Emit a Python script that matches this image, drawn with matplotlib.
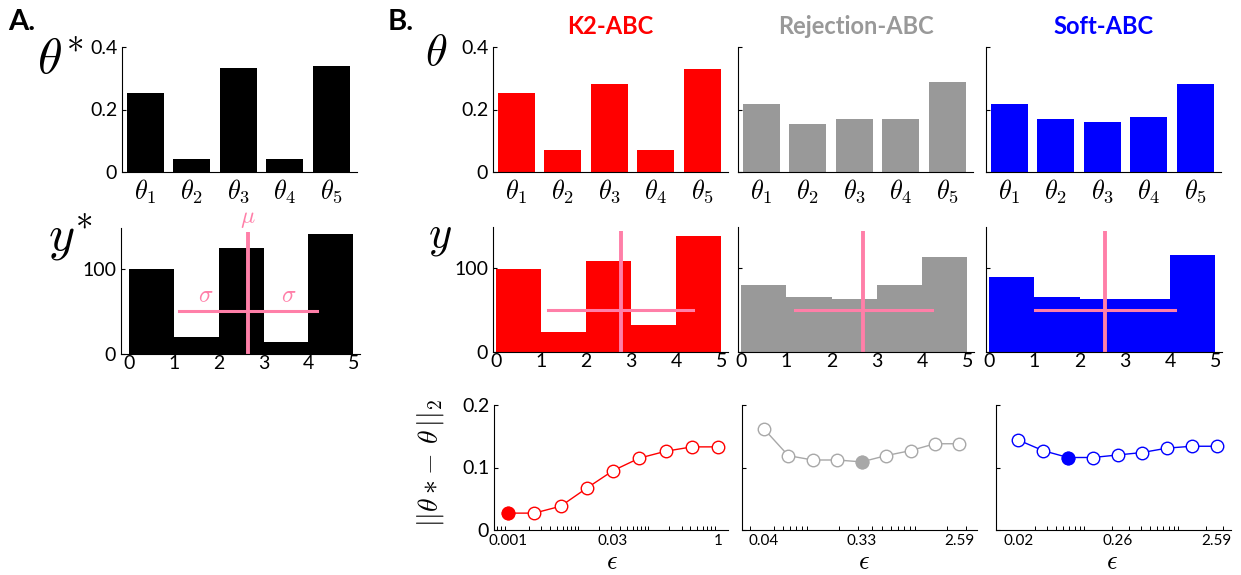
import numpy as np
import matplotlib
matplotlib.use('Agg')
import matplotlib.pyplot as plt
from matplotlib.ticker import LogLocator, NullFormatter, FixedLocator

plt.rcParams['font.family'] = ['Lato', 'DejaVu Sans']
plt.rcParams['mathtext.fontset'] = 'cm'

W, H = 1241, 575

# ---- data ----
theta_labels = [r'$\theta_1$', r'$\theta_2$', r'$\theta_3$', r'$\theta_4$', r'$\theta_5$']
theta_pos = [1, 2, 3, 4, 5]
bin_edges = [0, 1, 2, 3, 4]

theta_true = [0.254, 0.043, 0.332, 0.043, 0.339]
y_true = [100, 20, 125, 14, 141]
mu_true, sigma_true = 2.65, 1.53

methods = ['K2-ABC', 'Rejection-ABC', 'Soft-ABC']
bar_colors = ['#ff0000', '#999999', '#0000ff']
line_colors = ['#ff0000', '#a8a8a8', '#0000ff']

theta_k2 = [0.252, 0.070, 0.282, 0.070, 0.330]
theta_rej = [0.218, 0.154, 0.170, 0.170, 0.289]
theta_soft = [0.218, 0.170, 0.160, 0.176, 0.282]

y_k2 = [98, 24, 108, 32, 137]
y_rej = [79, 65, 63, 79, 113]
y_soft = [89, 65, 63, 63, 115]

mu_k2, sigma_k2 = 2.77, 1.61
mu_rej, sigma_rej = 2.70, 1.52
mu_soft, sigma_soft = 2.57, 1.55

eps_k2 = [0.001, 0.00237, 0.00562, 0.0133, 0.0316, 0.075, 0.178, 0.422, 1.0]
err_k2 = [0.027, 0.027, 0.038, 0.067, 0.095, 0.115, 0.126, 0.133, 0.133]
eps_rej = [0.04, 0.0674, 0.1135, 0.191, 0.322, 0.542, 0.913, 1.537, 2.59]
err_rej = [0.162, 0.119, 0.112, 0.112, 0.109, 0.119, 0.127, 0.138, 0.138]
eps_soft = [0.02, 0.0367, 0.0675, 0.124, 0.228, 0.418, 0.768, 1.41, 2.59]
err_soft = [0.144, 0.127, 0.116, 0.116, 0.120, 0.124, 0.131, 0.134, 0.134]
best_idx = [0, 4, 2]

eps_ticks = [[0.001, 0.0316, 1.0], [0.04, 0.322, 2.59], [0.02, 0.228, 2.59]]
eps_ticklabels = [['0.001', '0.03', '1'], ['0.04', '0.33', '2.59'], ['0.02', '0.26', '2.59']]
eps_lims = [(10**-3.2, 10**0.14), (10**-1.6, 10**0.576), (10**-1.936, 10**0.565)]

thetas = [theta_k2, theta_rej, theta_soft]
ys = [y_k2, y_rej, y_soft]
mus = [mu_k2, mu_rej, mu_soft]
sigmas = [sigma_k2, sigma_rej, sigma_soft]
epss = [eps_k2, eps_rej, eps_soft]
errs = [err_k2, err_rej, err_soft]

pink = '#ff7fa8'

fig = plt.figure(figsize=(W / 100, H / 100), dpi=100)


def px_axes(l, t, r, b):
    return fig.add_axes([l / W, 1 - b / H, (r - l) / W, (b - t) / H])


def style(ax):
    for s in ['top', 'right']:
        ax.spines[s].set_visible(False)
    ax.tick_params(direction='in', length=3, width=0.8, labelsize=14)


def theta_panel(ax, vals, color, show_y):
    style(ax)
    ax.bar(theta_pos, vals, width=0.8, color=color)
    ax.set_xlim(0.5, 5.55)
    ax.set_ylim(0, 0.4)
    ax.set_yticks([0, 0.2, 0.4])
    ax.set_yticklabels(['0', '0.2', '0.4'] if show_y else [])
    ax.set_xticks(theta_pos)
    ax.set_xticklabels(theta_labels, fontsize=19)
    ax.tick_params(axis='x', length=0, pad=4)


def y_panel(ax, vals, color, mu, sigma, show_y, xlo):
    style(ax)
    ax.bar(bin_edges, vals, width=1.0, align='edge', color=color)
    ax.plot([mu, mu], [0, 143], color=pink, lw=2.8, solid_capstyle='butt')
    ax.plot([mu - sigma, mu + sigma], [50, 50], color=pink, lw=2.2)
    ax.set_xlim(xlo, 5.15)
    ax.set_ylim(0, 148)
    ax.set_yticks([0, 100])
    ax.set_yticklabels(['0', '100'] if show_y else [])
    ax.set_xticks([0, 1, 2, 3, 4, 5])
    ax.tick_params(axis='x', length=0, pad=1)


# ---- panel A ----
axA1 = px_axes(122, 47, 357, 172)
theta_panel(axA1, theta_true, 'black', True)
axA2 = px_axes(121, 228, 360, 354)
y_panel(axA2, y_true, 'black', mu_true, sigma_true, True, -0.18)
axA2.text(1.72, 56, r'$\sigma$', color=pink, fontsize=17, ha='center', va='bottom')
axA2.text(3.55, 56, r'$\sigma$', color=pink, fontsize=17, ha='center', va='bottom')
axA2.text(mu_true, 146, r'$\mu$', color=pink, fontsize=17, ha='center', va='bottom')

fig.text(8 / W, 1 - 22 / H, 'A.', fontsize=21, fontweight='bold', va='center')
fig.text(60 / W, 1 - 60 / H, r'$\theta^{*}$', fontsize=36, ha='center', va='center')
fig.text(70 / W, 1 - 238 / H, r'$y^{*}$', fontsize=36, ha='center', va='center')

# ---- panel B ----
top_cols = [(493, 728), (738, 973), (986, 1221)]
mid_cols = [(493, 728), (738, 974), (986, 1222)]
bot_cols = [(494, 728), (742, 977), (996, 1231)]
eps_label_x = [612, 864, 1112]

for i in range(3):
    ax = px_axes(top_cols[i][0], 47, top_cols[i][1], 172)
    theta_panel(ax, thetas[i], bar_colors[i], i == 0)

    ax = px_axes(mid_cols[i][0], 227, mid_cols[i][1], 352)
    y_panel(ax, ys[i], bar_colors[i], mus[i], sigmas[i], i == 0, -0.07)

    ax = px_axes(bot_cols[i][0], 405, bot_cols[i][1], 530)
    style(ax)
    ax.set_xscale('log')
    c = line_colors[i]
    ax.plot(epss[i], errs[i], '-o', color=c, lw=1.0, ms=9, mfc='white', mec=c, mew=1.0)
    b = best_idx[i]
    ax.plot(epss[i][b], errs[i][b], 'o', color=c, ms=9, mec=c)
    ax.set_xlim(*eps_lims[i])
    ax.set_ylim(0, 0.2)
    ax.set_yticks([0, 0.1, 0.2])
    ax.set_yticklabels(['0', '0.1', '0.2'] if i == 0 else [])
    ax.xaxis.set_major_locator(FixedLocator(eps_ticks[i]))
    ax.set_xticklabels(eps_ticklabels[i], fontsize=11)
    ax.xaxis.set_minor_locator(LogLocator(base=10, subs=np.arange(1, 10), numticks=30))
    ax.xaxis.set_minor_formatter(NullFormatter())
    ax.tick_params(axis='x', which='major', length=0, pad=3)
    ax.tick_params(axis='x', which='minor', direction='in', length=3, width=0.7)
    fig.text(eps_label_x[i] / W, 1 - 574 / H, r'$\epsilon$', fontsize=19,
             ha='center', va='bottom')

    cx = (top_cols[i][0] + top_cols[i][1]) / 2
    fig.text(cx / W, 1 - 27 / H, methods[i], color=bar_colors[i], fontsize=17,
             fontweight='bold', ha='center', va='center')

fig.text(388 / W, 1 - 22 / H, 'B.', fontsize=21, fontweight='bold', va='center')
fig.text(436 / W, 1 - 52 / H, r'$\theta$', fontsize=32, ha='center', va='center')
fig.text(440 / W, 1 - 238 / H, r'$y$', fontsize=32, ha='center', va='center')
fig.text(431 / W, 1 - 463 / H, r'$||\theta*\!-\,\theta\,||_2$', fontsize=20,
         rotation=90, ha='center', va='center')

fig.savefig('out.png', dpi=100)
